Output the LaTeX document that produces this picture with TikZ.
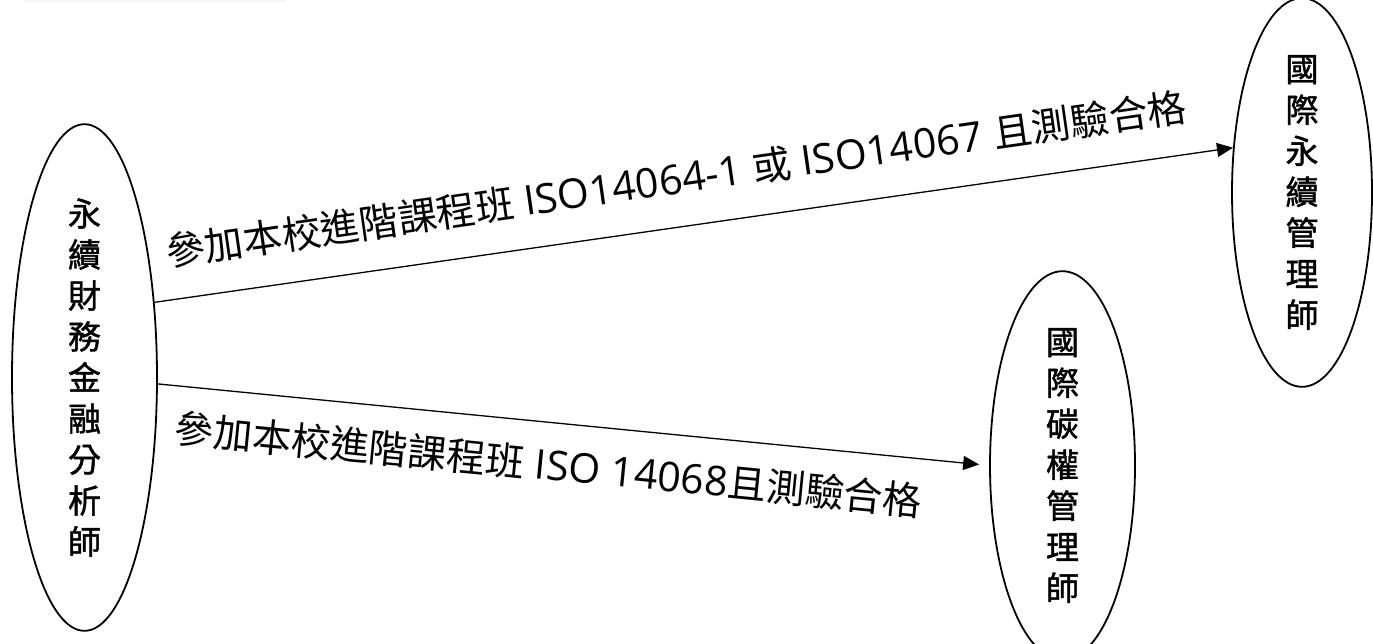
\documentclass[tikz,border=0pt]{standalone}
\usepackage{fontspec}
\setmainfont{Open Sans}
\newfontfamily\cjk{Noto Sans CJK TC}
\newfontfamily\cjkbold[FakeBold=1.4]{Noto Sans CJK TC}
\newcommand\zhtxt[1]{{\cjk\fontsize{39}{44}\selectfont #1}}
\usetikzlibrary{arrows.meta,shapes.geometric}
\begin{document}
\begin{tikzpicture}[x=1pt,y=-1pt,
  role/.style={ellipse, draw, line width=1.8pt, inner sep=0pt, align=center,
    font=\cjkbold\fontsize{33}{41}\selectfont},
  link/.style={line width=1.3pt, -{Triangle[length=16pt,width=14pt]}},
  lbl/.style={font=\fontsize{41}{44}\selectfont, inner sep=0pt}]
\useasboundingbox (0,0) rectangle (1373,643);
\fill[gray!8] (24,0) rectangle (286,2);
\node[role, minimum width=145pt, minimum height=465pt] (L) at (84.5,377.5)
  {永\\續\\財\\務\\金\\融\\分\\析\\師};
\node[role, minimum width=140pt, minimum height=359pt] (T) at (1302,192.5)
  {國\\際\\永\\續\\管\\理\\師};
\node[role, minimum width=145pt, minimum height=355pt] (M) at (1062.5,465.5)
  {國\\際\\碳\\權\\管\\理\\師};
\draw[link] (L.47) -- (T.147)
  node[lbl, pos=0.49, sloped, yshift=48pt]
  {\zhtxt{參加本校進階課程班} ISO14064-1 \zhtxt{或} ISO14067 \zhtxt{且測驗合格}};
\draw[link, shorten >=10pt] (L.-5) -- (M.west)
  node[lbl, pos=0.475, sloped, yshift=-42pt]
  {\zhtxt{參加本校進階課程班} ISO 14068\zhtxt{且測驗合格}};
\end{tikzpicture}
\end{document}
